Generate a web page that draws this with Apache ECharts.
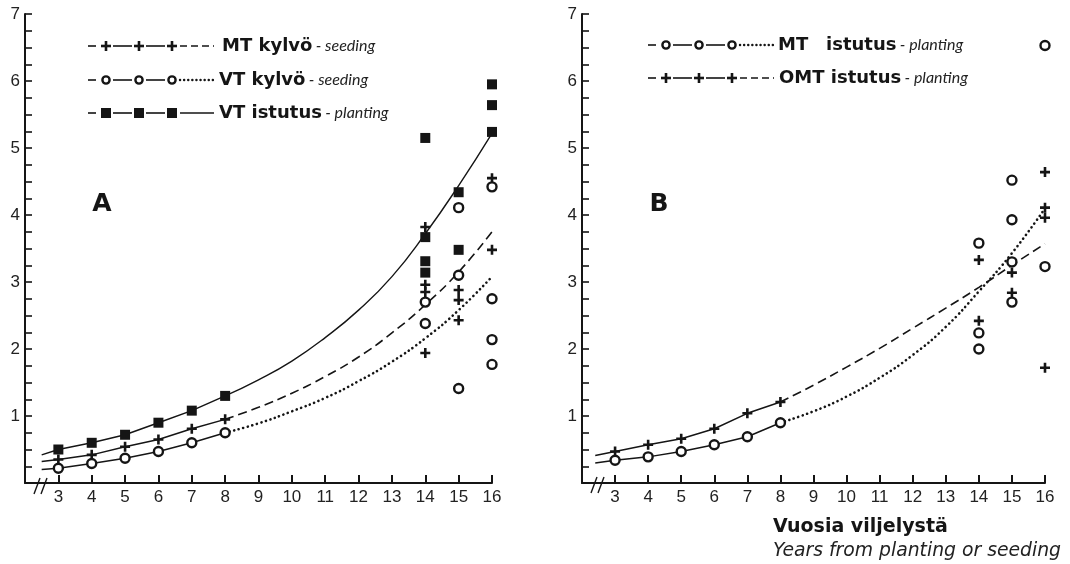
<!DOCTYPE html>
<html>
<head>
<meta charset="utf-8">
<script src="https://cdn.jsdelivr.net/npm/echarts@6/dist/echarts.min.js"></script>
<style>
html, body { margin: 0; background: #fff; }
#chart { width: 1070px; height: 564px; }
</style>
</head>
<body>
<div id="chart"></div>
<script>
// --- data ---
var earlyYears = [3, 4, 5, 6, 7, 8];
var fitYears = [8, 9, 10, 11, 12, 13, 14, 15, 16];

// A: MT kylvö (plus), VT kylvö (circle), VT istutus (square)
var aMtSeedStart = 0.32, aVtSeedStart = 0.20, aVtPlantStart = 0.42;
var aMtSeed = [0.35, 0.42, 0.54, 0.65, 0.81, 0.95];
var aVtSeed = [0.22, 0.29, 0.37, 0.47, 0.60, 0.75];
var aVtPlant = [0.50, 0.60, 0.72, 0.90, 1.08, 1.30];
var aMtSeedFit = [0.95, 1.13, 1.34, 1.59, 1.88, 2.24, 2.66, 3.15, 3.75];
var aVtSeedFit = [0.75, 0.89, 1.07, 1.27, 1.52, 1.81, 2.16, 2.58, 3.08];
var aVtPlantFit = [1.30, 1.54, 1.82, 2.17, 2.58, 3.08, 3.72, 4.44, 5.22];
var aMtSeedObs = [[14, 3.82], [14, 2.96], [14, 2.85], [14, 1.94], [15, 2.88], [15, 2.73], [15, 2.43], [16, 4.55], [16, 3.48]];
var aVtSeedObs = [[14, 2.70], [14, 2.38], [15, 4.11], [15, 3.10], [15, 1.41], [16, 4.42], [16, 2.75], [16, 2.14], [16, 1.77]];
var aVtPlantObs = [[14, 5.15], [14, 3.67], [14, 3.31], [14, 3.14], [15, 4.34], [15, 3.48], [16, 5.95], [16, 5.64], [16, 5.24]];

// B: MT istutus (circle), OMT istutus (plus)
var bMtPlantStart = 0.30, bOmtPlantStart = 0.41;
var bMtPlant = [0.34, 0.39, 0.47, 0.57, 0.69, 0.90];
var bOmtPlant = [0.47, 0.57, 0.66, 0.81, 1.04, 1.21];
var bMtPlantFit = [0.90, 1.07, 1.29, 1.57, 1.91, 2.33, 2.86, 3.43, 4.10];
var bOmtPlantFit = [1.21, 1.46, 1.73, 2.01, 2.31, 2.61, 2.92, 3.25, 3.57];
var bMtPlantObs = [[14, 3.58], [14, 2.24], [14, 2.00], [15, 4.52], [15, 3.93], [15, 3.30], [15, 2.70], [16, 6.53], [16, 3.23]];
var bOmtPlantObs = [[14, 3.33], [14, 2.42], [15, 3.14], [15, 2.84], [16, 4.64], [16, 4.11], [16, 3.96], [16, 1.72]];

var ink = '#151515';
var numFont = 'Liberation Sans';
var plusPath = 'path://M3.7,0h2.6v3.7h3.7v2.6h-3.7v3.7h-2.6v-3.7h-3.7v-2.6h3.7z';

var marks = {
    plus: { symbol: plusPath, symbolSize: 10, itemStyle: { color: ink, opacity: 1 } },
    circle: { symbol: 'circle', symbolSize: 9, itemStyle: { color: '#fff', borderColor: ink, borderWidth: 2.4, opacity: 1 } },
    square: { symbol: 'rect', symbolSize: 10, itemStyle: { color: ink, opacity: 1 } }
};
var dashes = {
    solid: { type: 'solid', width: 1.4 },
    dashed: { type: [9, 5], width: 1.6 },
    dotted: { type: [0.1, 4.6], width: 2.6, cap: 'round' }
};

function earlySeries(grid, startYear, start, vals, kind) {
    var data = [{ value: [startYear, start], symbol: 'none' }];
    earlyYears.forEach(function (y, i) { data.push([y, vals[i]]); });
    return {
        type: 'line', xAxisIndex: grid, yAxisIndex: grid, data: data,
        symbol: marks[kind].symbol, symbolSize: marks[kind].symbolSize, itemStyle: marks[kind].itemStyle,
        lineStyle: { color: ink, width: 1.5 }, z: 3
    };
}
function fitSeries(grid, vals, dash) {
    return {
        type: 'line', xAxisIndex: grid, yAxisIndex: grid, smooth: true, showSymbol: false,
        data: fitYears.map(function (y, i) { return [y, vals[i]]; }),
        lineStyle: Object.assign({ color: ink }, dashes[dash]), z: 2
    };
}
function obsSeries(grid, pts, kind) {
    return {
        type: 'scatter', xAxisIndex: grid, yAxisIndex: grid, data: pts,
        symbol: marks[kind].symbol, symbolSize: marks[kind].symbolSize, itemStyle: marks[kind].itemStyle, z: 4
    };
}

function xAxisFor(grid) {
    return {
        type: 'value', gridIndex: grid, min: 2, max: 16, interval: 1,
        axisLine: { lineStyle: { color: ink, width: 2 } },
        axisTick: { inside: true, length: 8, lineStyle: { color: ink, width: 2 } },
        axisLabel: { color: '#222', fontFamily: numFont, fontSize: 17, margin: 6,
            formatter: function (v) { return v >= 3 ? String(v) : ''; } },
        splitLine: { show: false }
    };
}
function yAxisFor(grid) {
    return {
        type: 'value', gridIndex: grid, min: 0, max: 7, interval: 0.25,
        axisLine: { show: true, lineStyle: { color: ink, width: 2 } },
        axisTick: { inside: true, length: 7, lineStyle: { color: ink, width: 1.6 } },
        axisLabel: { color: '#222', fontFamily: numFont, fontSize: 17, margin: 5,
            formatter: function (v) { return (v >= 1 && v % 1 === 0) ? String(v) : ''; } },
        splitLine: { show: false }
    };
}

// legend glyph rows drawn as graphics
function glyph(kind, cx, cy) {
    if (kind === 'circle') {
        return { type: 'circle', shape: { cx: cx, cy: cy, r: 3.6 }, style: { fill: '#fff', stroke: ink, lineWidth: 2.4 } };
    }
    if (kind === 'square') {
        return { type: 'rect', shape: { x: cx - 5, y: cy - 5, width: 10, height: 10 }, style: { fill: ink } };
    }
    return { type: 'group', children: [
        { type: 'rect', shape: { x: cx - 1.3, y: cy - 5, width: 2.6, height: 10 }, style: { fill: ink } },
        { type: 'rect', shape: { x: cx - 5, y: cy - 1.3, width: 10, height: 2.6 }, style: { fill: ink } }
    ] };
}
function seg(x1, x2, y, dash) {
    var st = { stroke: ink, lineWidth: 1.6 };
    if (dash === 'dashed') { st.lineDash = [7, 4]; }
    if (dash === 'dotted') { st.lineDash = [0.1, 4]; st.lineWidth = 2.4; st.lineCap = 'round'; }
    return { type: 'line', shape: { x1: x1, y1: y, x2: x2, y2: y }, style: st };
}
function legendRow(x, y, kind, dash) {
    var kids = [seg(x, x + 8, y, 'solid')];
    [18, 51, 84].forEach(function (d, i) {
        if (i > 0) kids.push(seg(x + d - 26, x + d - 7, y, 'solid'));
        kids.push(glyph(kind, x + d, y));
    });
    kids.push(seg(x + 92, x + 126, y, dash));
    return { type: 'group', children: kids };
}
function label(x, y, text) {
    return {
        type: 'text', x: x, y: y,
        style: {
            text: text, verticalAlign: 'middle', fill: ink,
            rich: {
                b: { fontFamily: 'DejaVu Sans', fontWeight: 'bold', fontSize: 18, fill: ink },
                i: { fontFamily: 'Lato', fontStyle: 'italic', fontSize: 16, fill: '#222' }
            }
        }
    };
}
function breakMark(x, y) {
    return { type: 'group', children: [
        { type: 'line', shape: { x1: x, y1: y + 10, x2: x + 6, y2: y - 6 }, style: { stroke: ink, lineWidth: 1.4 } },
        { type: 'line', shape: { x1: x + 7, y1: y + 10, x2: x + 13, y2: y - 6 }, style: { stroke: ink, lineWidth: 1.4 } }
    ] };
}

var chart = echarts.init(document.getElementById('chart'));

var option = {
    backgroundColor: '#fff',
    animation: false,
    grid: [
        { left: 25, top: 14, width: 467, height: 469 },
        { left: 582, top: 14, width: 463, height: 469 }
    ],
    xAxis: [xAxisFor(0), xAxisFor(1)],
    yAxis: [yAxisFor(0), yAxisFor(1)],
    series: [
        earlySeries(0, 2.5, aVtPlantStart, aVtPlant, 'square'),
        earlySeries(0, 2.5, aMtSeedStart, aMtSeed, 'plus'),
        earlySeries(0, 2.5, aVtSeedStart, aVtSeed, 'circle'),
        fitSeries(0, aVtPlantFit, 'solid'),
        fitSeries(0, aMtSeedFit, 'dashed'),
        fitSeries(0, aVtSeedFit, 'dotted'),
        obsSeries(0, aVtPlantObs, 'square'),
        obsSeries(0, aMtSeedObs, 'plus'),
        obsSeries(0, aVtSeedObs, 'circle'),

        earlySeries(1, 2.4, bOmtPlantStart, bOmtPlant, 'plus'),
        earlySeries(1, 2.4, bMtPlantStart, bMtPlant, 'circle'),
        fitSeries(1, bOmtPlantFit, 'dashed'),
        fitSeries(1, bMtPlantFit, 'dotted'),
        obsSeries(1, bOmtPlantObs, 'plus'),
        obsSeries(1, bMtPlantObs, 'circle')
    ],
    graphic: [
        legendRow(88, 46, 'plus', 'dashed'),
        legendRow(88, 80, 'circle', 'dotted'),
        legendRow(88, 113, 'square', 'solid'),
        label(222, 46, '{b|MT kylvö} {i|- seeding}'),
        label(219, 80, '{b|VT kylvö} {i|- seeding}'),
        label(219, 113, '{b|VT istutus} {i|- planting}'),

        legendRow(648, 45, 'circle', 'dotted'),
        legendRow(648, 78, 'plus', 'dashed'),
        label(778, 45, '{b|MT}'),
        label(826, 45, '{b|istutus} {i|- planting}'),
        label(779, 78, '{b|OMT istutus} {i|- planting}'),

        { type: 'text', x: 102, y: 204, style: { text: 'A', fontFamily: 'DejaVu Sans', fontWeight: 'bold', fontSize: 25, fill: ink, align: 'center', verticalAlign: 'middle' } },
        { type: 'text', x: 659, y: 204, style: { text: 'B', fontFamily: 'DejaVu Sans', fontWeight: 'bold', fontSize: 25, fill: ink, align: 'center', verticalAlign: 'middle' } },

        breakMark(34, 484),
        breakMark(591, 483),

        { type: 'text', x: 773, y: 527, style: { text: 'Vuosia viljelystä', fontFamily: 'DejaVu Sans', fontWeight: 'bold', fontSize: 19, fill: ink, verticalAlign: 'middle' } },
        { type: 'text', x: 773, y: 551, style: { text: 'Years from planting or seeding', fontFamily: 'DejaVu Sans', fontStyle: 'italic', fontSize: 18.8, fill: '#222', verticalAlign: 'middle' } }
    ]
};

chart.setOption(option);
</script>
</body>
</html>
